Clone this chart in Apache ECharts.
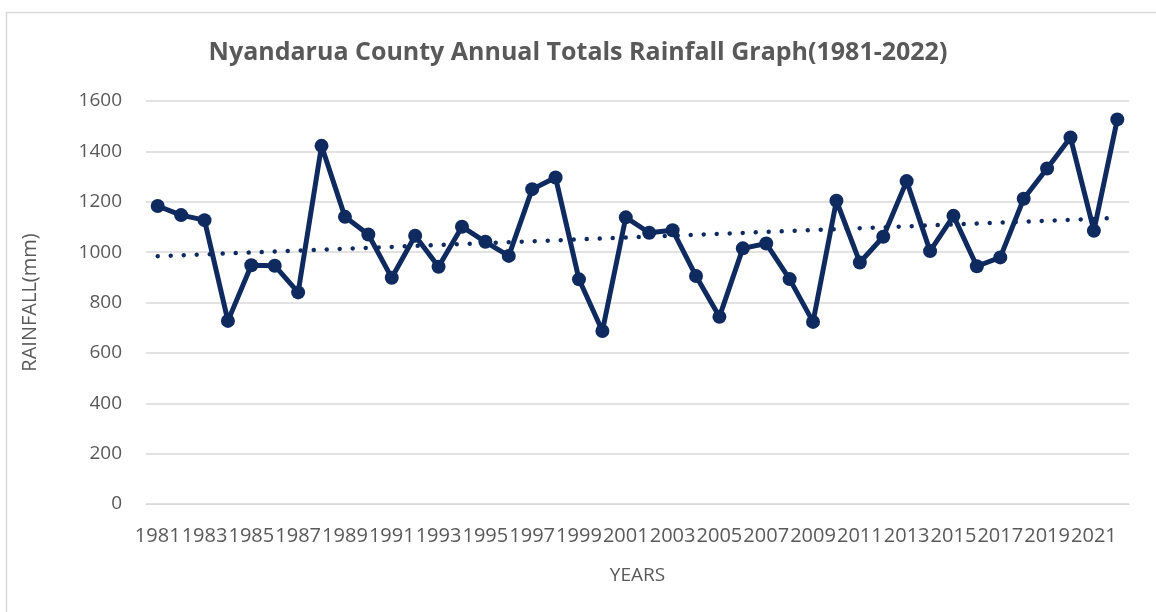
<!DOCTYPE html>
<html>
<head>
<meta charset="utf-8">
<script src="https://cdn.jsdelivr.net/npm/echarts@6/dist/echarts.min.js"></script>
<style>
  html, body { margin: 0; padding: 0; background: #fff; }
  #echart { width: 1156px; height: 612px; }
</style>
</head>
<body>
<div id="echart"></div>
<script>
// years 1981..2022
var years = ['1981','1982','1983','1984','1985','1986','1987','1988','1989','1990',
  '1991','1992','1993','1994','1995','1996','1997','1998','1999','2000',
  '2001','2002','2003','2004','2005','2006','2007','2008','2009','2010',
  '2011','2012','2013','2014','2015','2016','2017','2018','2019','2020',
  '2021','2022'];

// annual rainfall totals (mm)
var rainfall = [1183, 1147, 1127, 727, 948, 946, 840, 1422, 1140, 1070,
  898, 1065, 942, 1101, 1041, 985, 1250, 1296, 892, 687,
  1138, 1077, 1087, 905, 743, 1015, 1034, 893, 723, 1204,
  959, 1061, 1282, 1004, 1144, 944, 979, 1212, 1332, 1455,
  1085, 1527];

var yTicks = [0, 200, 400, 600, 800, 1000, 1200, 1400, 1600];

// linear trend (least squares), like the excel trendline
function trend(vals) {
  var n = vals.length, sx = 0, sy = 0, sxy = 0, sxx = 0;
  vals.forEach(function (v, i) { sx += i; sy += v; sxy += i * v; sxx += i * i; });
  var b = (n * sxy - sx * sy) / (n * sxx - sx * sx);
  var a = (sy - b * sx) / n;
  return vals.map(function (v, i) { return +(a + b * i).toFixed(1); });
}

try {
  var textColor = '#595959';
  var navy = '#0f2a5f';
  var chart = echarts.init(document.getElementById('echart'));
  var option = {
    animation: false,
    backgroundColor: '#fff',
    graphic: [{
      type: 'polyline',
      shape: { points: [[6.5, 612], [6.5, 12.5], [1156, 12.5]] },
      style: { stroke: '#d9d9d9', lineWidth: 1.5, fill: null }
    }],
    title: {
      text: 'Nyandarua County Annual Totals Rainfall Graph(1981-2022)',
      left: 'center',
      top: 35,
      textStyle: { fontFamily: 'Open Sans', fontWeight: 'bold', fontSize: 25, color: textColor }
    },
    grid: { left: 146, right: 27, top: 101, bottom: 108 },
    xAxis: {
      type: 'category',
      data: years,
      boundaryGap: true,
      name: 'YEARS',
      nameLocation: 'middle',
      nameGap: 62,
      nameTextStyle: { fontFamily: 'Open Sans', fontSize: 19, color: textColor },
      axisLine: { show: true, lineStyle: { color: '#d9d9d9', width: 1 } },
      axisTick: { show: false },
      axisLabel: {
        interval: 1,
        hideOverlap: false,
        margin: 22,
        fontFamily: 'Open Sans',
        fontSize: 20,
        color: textColor
      }
    },
    yAxis: {
      type: 'value',
      min: yTicks[0],
      max: yTicks[yTicks.length - 1],
      interval: 200,
      name: 'RAINFALL(mm)',
      nameLocation: 'middle',
      nameRotate: 90,
      nameGap: 106,
      nameTextStyle: { fontFamily: 'Open Sans', fontSize: 20, color: textColor },
      axisLine: { show: false },
      axisTick: { show: false },
      splitLine: { lineStyle: { color: '#d9d9d9', width: 1.5 } },
      axisLabel: {
        margin: 24, fontFamily: 'Open Sans', fontSize: 19, color: textColor,
        formatter: function (v) { return String(v); }
      }
    },
    series: [
      {
        name: 'Rainfall',
        type: 'line',
        data: rainfall,
        symbol: 'circle',
        symbolSize: 14,
        itemStyle: { color: navy },
        lineStyle: { color: navy, width: 5 },
        z: 3
      },
      {
        name: 'Trend',
        type: 'line',
        data: trend(rainfall),
        symbol: 'none',
        lineStyle: { color: navy, width: 4.5, type: [0.01, 13], cap: 'round' },
        z: 2
      }
    ]
  };
  chart.setOption(option);
} catch (error) {
  console.error('Failed to draw chart');
  console.error(error);
}
</script>
</body>
</html>
